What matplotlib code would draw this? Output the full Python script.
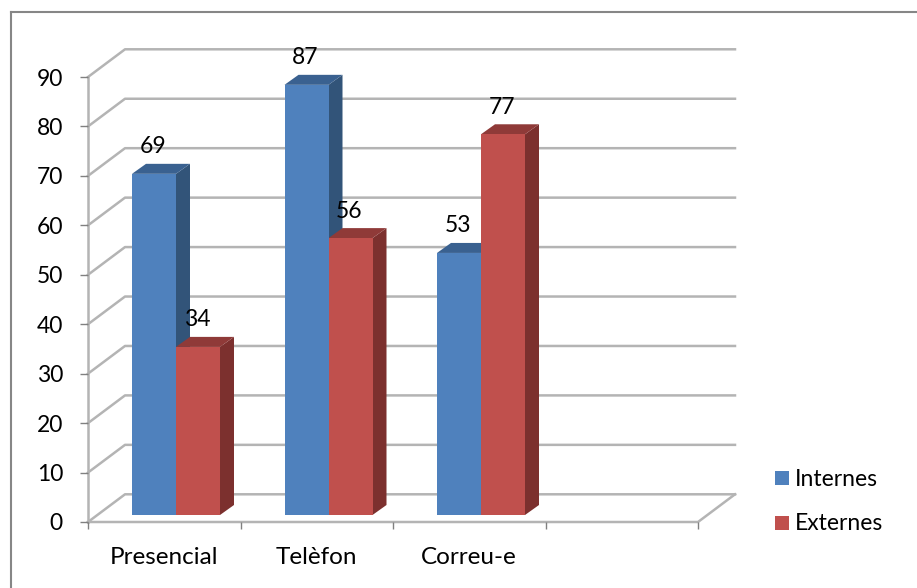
import numpy as np
import matplotlib
matplotlib.use('Agg')
import matplotlib.pyplot as plt
from matplotlib.lines import Line2D
from matplotlib.patches import Rectangle

# values
categories = ['Presencial', 'Telèfon', 'Correu-e']
internes = [69, 87, 53]
externes = [34, 56, 77]
y_ticks = np.arange(0, 100, 10)

W, H = 917, 588
LEFT, RIGHT, Y0, Y90 = 88, 698, 522, 77

plt.rcParams['font.family'] = ['Lato', 'DejaVu Sans']
FS = 16.5

fig = plt.figure(figsize=(W / 100, H / 100), dpi=100)
ax = fig.add_axes([LEFT / W, 1 - Y0 / H, (RIGHT - LEFT) / W, (Y0 - Y90) / H])
ax.set_xlim(0, 4)
ax.set_ylim(0, 90)
ax.patch.set_alpha(0)
for s in ax.spines.values():
    s.set_visible(False)

# pixel sizes to data units
px_x = 4 / (RIGHT - LEFT)
px_y = 90 / (Y0 - Y90)
dx, dy = 37 * px_x, 27.7 * px_y        # wall depth
bar_w = 44 * px_x
bar_dx, bar_dy = 14 * px_x, 10 * px_y  # bar depth
base_y = 7 * px_y                      # bar offset from front edge

grid_c = '#b4b4b4'
# walls
for v in y_ticks:
    ax.plot([0, dx, 4 + dx], [v, v + dy, v + dy], color=grid_c, lw=1.8, clip_on=False, zorder=1)
ax.plot([0, 4, 4 + dx], [0, 0, dy], color=grid_c, lw=1.8, clip_on=False, zorder=1)
ax.plot([0, 0], [0, 90], color=grid_c, lw=1.8, clip_on=False, zorder=1)


def bar3d(x, v, front, side, top):
    y = base_y
    t = v + base_y
    ax.fill([x, x + bar_w, x + bar_w, x], [y, y, t, t], color=front, lw=0, clip_on=False, zorder=3)
    ax.fill([x + bar_w, x + bar_w + bar_dx, x + bar_w + bar_dx, x + bar_w],
            [y, y + bar_dy, t + bar_dy, t], color=side, lw=0, clip_on=False, zorder=2.5)
    ax.fill([x, x + bar_w, x + bar_w + bar_dx, x + bar_dx],
            [t, t, t + bar_dy, t + bar_dy], color=top, lw=0, clip_on=False, zorder=2.5)


for i, (a, b) in enumerate(zip(internes, externes)):
    x_mid = i + 88 * px_x
    bar3d(x_mid - bar_w, a, '#4f81bd', '#325479', '#3a6190')
    bar3d(x_mid, b, '#c0504d', '#7c302e', '#8f3a38')
    ax.text(x_mid - bar_w / 2 - 1 * px_x, a + base_y + bar_dy + 17 * px_y, str(a), ha='center',
            va='center', fontsize=FS, color='black', zorder=5)
    ax.text(x_mid + bar_w / 2 - 1 * px_x, b + base_y + bar_dy + 17 * px_y, str(b), ha='center',
            va='center', fontsize=FS, color='black', zorder=5)

# ticks
ax.set_yticks(y_ticks)
ax.set_yticklabels([str(v) for v in y_ticks], fontsize=FS)
ax.set_xticks(np.arange(0, 5))
ax.set_xticklabels([])
ax.set_xticks(np.arange(3) + 0.5, minor=True)
ax.set_xticklabels(categories, minor=True, fontsize=17.5)
ax.tick_params(axis='x', which='major', length=5, color='#808080', width=1)
ax.tick_params(axis='x', which='minor', length=0, pad=18)
ax.tick_params(axis='y', length=6, color='#808080', width=1, pad=12)

# legend
fig.patches.append(Rectangle((775 / W, 1 - 485 / H), 14 / W, 14 / H, transform=fig.transFigure,
                             color='#4f81bd', lw=0))
fig.patches.append(Rectangle((775 / W, 1 - 530 / H), 14 / W, 14 / H, transform=fig.transFigure,
                             color='#c0504d', lw=0))
fig.text(795 / W, 1 - 479 / H, 'Internes', fontsize=FS, va='center')
fig.text(795 / W, 1 - 523 / H, 'Externes', fontsize=FS, va='center')

# frame, only top and left show in the picture
fig.add_artist(Line2D([11 / W, 1], [1 - 12 / H, 1 - 12 / H], color='#868686', lw=1.5))
fig.add_artist(Line2D([11 / W, 11 / W], [1 - 12 / H, 0], color='#868686', lw=1.5))

fig.savefig('out.png', dpi=100)
